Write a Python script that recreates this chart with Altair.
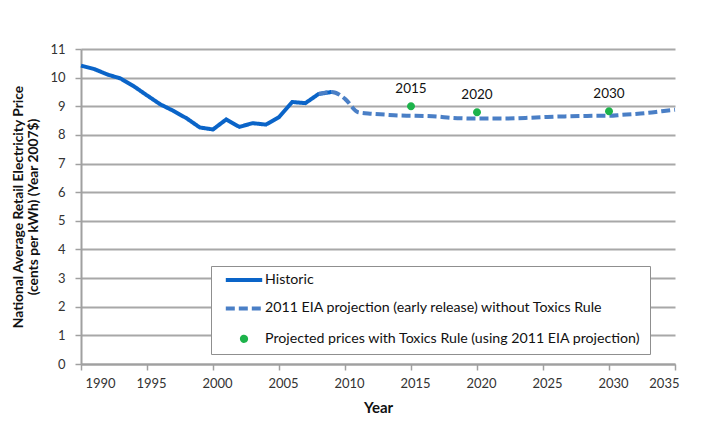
import altair as alt
import pandas as pd

# ---- data ----
hist_years = list(range(1990, 2010))
hist_values = [10.42, 10.30, 10.11, 9.97, 9.70, 9.38, 9.07, 8.84, 8.58, 8.26,
               8.19, 8.54, 8.28, 8.41, 8.36, 8.62, 9.15, 9.11, 9.43, 9.50]

proj_years = list(range(2008, 2036))
proj_values = [9.43, 9.50, 9.26, 8.79, 8.74, 8.71, 8.68, 8.67, 8.66, 8.64,
               8.60, 8.58, 8.57, 8.57, 8.57, 8.58, 8.60, 8.62, 8.64, 8.65,
               8.66, 8.67, 8.67, 8.70, 8.73, 8.77, 8.83, 8.88]

toxics_years = [2015, 2020, 2030]
toxics_values = [9.00, 8.79, 8.83]
toxics_labels = ["2015", "2020", "2030"]

series_names = [
    "Historic",
    "2011 EIA projection (early release) without Toxics Rule",
    "Projected prices with Toxics Rule  (using 2011 EIA projection)",
]
series_colors = ["#0A64C8", "#4A7FC6", "#1DB34B"]

x_ticks = list(range(1990, 2036, 5))
y_ticks = list(range(0, 12))

hist_df = pd.DataFrame({"year": hist_years, "value": hist_values, "series": series_names[0]})
proj_df = pd.DataFrame({"year": proj_years, "value": proj_values, "series": series_names[1]})
tox_df = pd.DataFrame({"year": toxics_years, "value": toxics_values,
                       "label": toxics_labels, "series": series_names[2]})

FONT = "Lato"
LINE_PATH = "M-2.6,0H2.6"
DOT_PATH = "M-0.3,0A0.3,0.3 0 1,0 0.3,0A0.3,0.3 0 1,0 -0.3,0Z"
NBSP = "\u00a0"

x_enc = alt.X("year:Q",
              scale=alt.Scale(domain=[1990, 2035], nice=False, zero=False),
              axis=alt.Axis(title="Year", values=x_ticks, format="d",
                            grid=False, tickSize=6, labelPadding=7, labelOffset=4,
                            titlePadding=10, labelOverlap=False))
y_enc = alt.Y("value:Q",
              scale=alt.Scale(domain=[0, 11], nice=False),
              axis=alt.Axis(title=["National Average Retail Electricity Price",
                                   "(cents per kWh) (Year 2007$)"],
                            values=y_ticks, grid=True, tickSize=6, labelOverlap=False,
                            labelPadding=10, titlePadding=9))

color_scale = alt.Scale(domain=series_names, range=series_colors)
dash_scale = alt.Scale(domain=series_names, range=[[1, 0], [9, 4], [1, 0]])
shape_scale = alt.Scale(domain=series_names, range=[LINE_PATH, LINE_PATH, DOT_PATH])

legend = alt.Legend(
    title=None, orient="none", legendX=130, legendY=217, direction="vertical",
    fillColor="white", strokeColor="#8F8F8F", padding=5,
    symbolSize=196, symbolOffset=19, labelOffset=12, rowPadding=11.4,
    symbolStrokeWidth=4, symbolOpacity=1,
    labelFont=FONT, labelFontSize=14.2, labelColor="#111111", labelLimit=600,
    labelExpr="datum.label + '" + NBSP * 2 + "'",
)

color_enc = alt.Color("series:N", scale=color_scale, legend=legend)
dash_enc = alt.StrokeDash("series:N", scale=dash_scale, legend=legend)

hist_line = alt.Chart(hist_df).mark_line(strokeWidth=4).encode(
    x=x_enc, y=y_enc, color=color_enc, strokeDash=dash_enc,
)

proj_line = alt.Chart(proj_df).mark_line(strokeWidth=4, interpolate="monotone").encode(
    x=x_enc, y=y_enc, color=color_enc, strokeDash=dash_enc,
)

tox_points = alt.Chart(tox_df).mark_point(filled=True, size=711, opacity=1,
                                          strokeWidth=0).encode(
    x=x_enc, y=y_enc, color=color_enc,
    shape=alt.Shape("series:N", scale=shape_scale, legend=legend),
)

tox_text = alt.Chart(tox_df).mark_text(dy=-17, font=FONT, fontSize=13.5, color="#111111").encode(
    x=x_enc, y=y_enc, text="label:N",
)

chart = alt.layer(hist_line, proj_line, tox_points, tox_text).properties(
    width=594, height=315,
    autosize=alt.AutoSizeParams(type="none"),
    padding={"left": 73, "top": 41, "right": 20, "bottom": 60},
).configure_view(
    stroke=None
).configure_axis(
    domainColor="#A0A0A0", domainWidth=2,
    tickColor="#A0A0A0", tickWidth=1.5,
    gridColor="#A8A8A8", gridWidth=2,
    labelFont=FONT, labelFontSize=13, labelColor="#333333",
    titleFont=FONT, titleFontWeight="bold", titleColor="#111111",
).configure_axisY(
    titleFontSize=13.8, titleLineHeight=15.5,
).configure_axisX(
    titleFontSize=15,
)

chart.save("out.html", embed_options={"renderer": "svg", "actions": False})
